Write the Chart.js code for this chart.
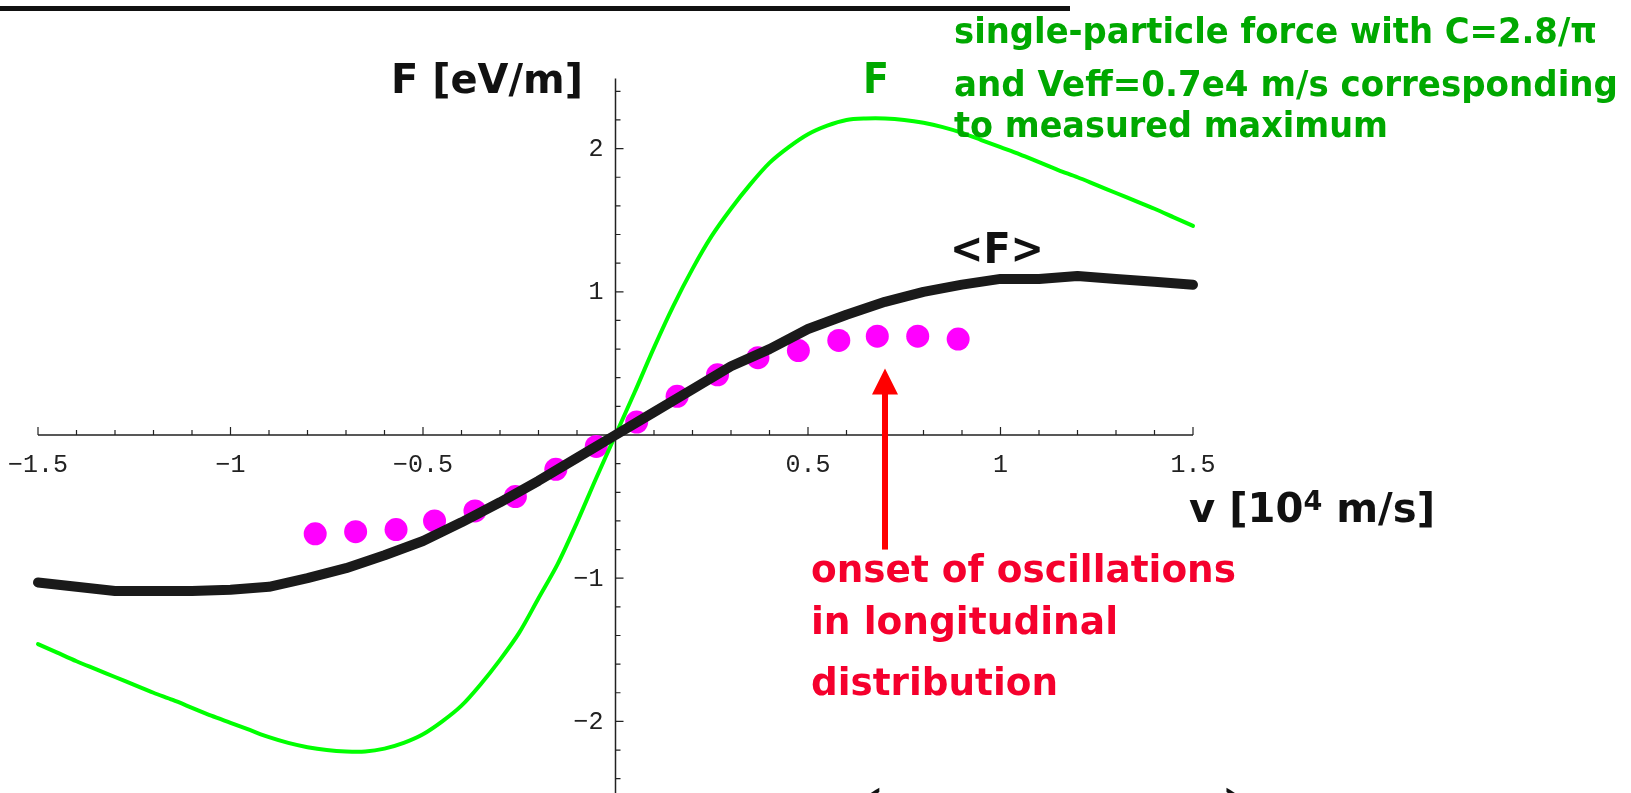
<!DOCTYPE html>
<html>
<head>
<meta charset="utf-8">
<script src="https://cdn.jsdelivr.net/npm/chart.js@4.4.0/dist/chart.umd.min.js"></script>
<style>
  html, body { margin: 0; padding: 0; background: #fff; }
  canvas { display: block; }
</style>
</head>
<body>
<canvas id="forceChart" width="1631" height="793"></canvas>
<script>
// velocity grid for the single-particle force curve F(v)
const singleV = [
  -1.5, -1.45, -1.4, -1.35, -1.3, -1.25, -1.2, -1.15, -1.1, -1.05, -1.0,
  -0.95, -0.9, -0.85, -0.8, -0.75, -0.7, -0.65, -0.6, -0.55, -0.5,
  -0.45, -0.4, -0.35, -0.3, -0.25, -0.2, -0.15, -0.1, -0.05, 0,
  0.05, 0.1, 0.15, 0.2, 0.25, 0.3, 0.35, 0.4, 0.45, 0.5,
  0.55, 0.6, 0.65, 0.7, 0.75, 0.8, 0.85, 0.9, 0.95, 1.0,
  1.05, 1.1, 1.15, 1.2, 1.25, 1.3, 1.35, 1.4, 1.45, 1.5
];
const singleF = [
  -1.46, -1.52, -1.58, -1.635, -1.69, -1.745, -1.80, -1.85, -1.905, -1.96, -2.01,
  -2.06, -2.11, -2.15, -2.18, -2.20, -2.21, -2.21, -2.19, -2.15, -2.09,
  -2.00, -1.89, -1.74, -1.57, -1.38, -1.14, -0.90, -0.61, -0.30, 0,
  0.30, 0.61, 0.90, 1.16, 1.39, 1.58, 1.75, 1.90, 2.01, 2.10,
  2.16, 2.20, 2.21, 2.21, 2.20, 2.18, 2.15, 2.11, 2.06, 2.01,
  1.96, 1.905, 1.85, 1.80, 1.745, 1.69, 1.635, 1.58, 1.52, 1.46
];

// averaged force <F>
const avgV = [
  -1.5, -1.4, -1.3, -1.2, -1.1, -1.0, -0.9, -0.8, -0.7, -0.6, -0.5,
  -0.4, -0.3, -0.2, -0.1, 0, 0.1, 0.2, 0.3, 0.4, 0.5,
  0.6, 0.7, 0.8, 0.9, 1.0, 1.1, 1.2, 1.3, 1.4, 1.5
];
const avgF = [
  -1.03, -1.06, -1.09, -1.09, -1.09, -1.08, -1.06, -1.0, -0.93, -0.84, -0.74,
  -0.61, -0.47, -0.32, -0.16, 0, 0.16, 0.32, 0.48, 0.60, 0.74,
  0.84, 0.93, 1.0, 1.05, 1.09, 1.09, 1.11, 1.09, 1.07, 1.05
];

// measured points
const measV = [
  -0.78, -0.675, -0.57, -0.47, -0.365, -0.26, -0.155, -0.05,
  0.055, 0.16, 0.265, 0.37, 0.475, 0.58, 0.68, 0.785, 0.89
];
const measF = [
  -0.69, -0.675, -0.66, -0.60, -0.53, -0.43, -0.24, -0.08,
  0.09, 0.27, 0.42, 0.54, 0.59, 0.66, 0.69, 0.69, 0.67
];

// axis ticks
const xTickValues = [-1.5, -1, -0.5, 0.5, 1, 1.5];
const xTickLabels = ["\u22121.5", "\u22121", "\u22120.5", "0.5", "1", "1.5"];
const yTickValues = [2, 1, -1, -2];
const yTickLabels = ["2", "1", "\u22121", "\u22122"];

// arrow marking the onset of oscillations (v, from F, to F)
const arrowV = 0.7;
const arrowFrom = -0.8;
const arrowTo = 0.465;

const pairs = (xs, ys) => xs.map((v, i) => ({ x: v, y: ys[i] }));

const BOLD = '"DejaVu Sans", sans-serif';

// draw text squeezed/stretched to a given width
function fitText(ctx, text, x, y, width, size, color) {
    ctx.save();
    ctx.font = `bold ${size}px ${BOLD}`;
    const w = ctx.measureText(text).width;
    ctx.translate(x, y);
    ctx.scale(width / w, 1);
    ctx.fillStyle = color;
    ctx.textAlign = "left";
    ctx.textBaseline = "alphabetic";
    ctx.fillText(text, 0, 0);
    ctx.restore();
}

const originAxes = {
    id: "originAxes",
    beforeDatasetsDraw(chart) {
        const { ctx, scales: { x, y } } = chart;
        const x0 = x.getPixelForValue(0);
        const y0 = y.getPixelForValue(0);

        ctx.save();
        ctx.strokeStyle = "#222";
        ctx.lineWidth = 1.5;

        ctx.beginPath();
        ctx.moveTo(x.getPixelForValue(-1.5), y0);
        ctx.lineTo(x.getPixelForValue(1.5), y0);
        ctx.moveTo(x0, y.getPixelForValue(2.49));
        ctx.lineTo(x0, y.getPixelForValue(-2.5));
        ctx.stroke();

        // x ticks every 0.1, pointing up
        ctx.lineWidth = 1.2;
        ctx.beginPath();
        for (let k = -15; k <= 15; k++) {
            if (k === 0) continue;
            const px = x.getPixelForValue(k / 10);
            const len = k % 5 === 0 ? 8 : 5;
            ctx.moveTo(px, y0);
            ctx.lineTo(px, y0 - len);
        }
        // y ticks every 0.2, pointing right
        for (let k = -12; k <= 12; k++) {
            if (k === 0) continue;
            const py = y.getPixelForValue(k / 5);
            const len = k % 5 === 0 ? 8 : 5;
            ctx.moveTo(x0, py);
            ctx.lineTo(x0 + len, py);
        }
        ctx.stroke();

        ctx.fillStyle = "#222";
        ctx.font = '25px "Liberation Mono", monospace';
        ctx.textAlign = "center";
        ctx.textBaseline = "alphabetic";
        xTickValues.forEach((v, i) => {
            ctx.fillText(xTickLabels[i], x.getPixelForValue(v), y0 + 37);
        });
        ctx.textAlign = "right";
        ctx.textBaseline = "middle";
        yTickValues.forEach((v, i) => {
            ctx.fillText(yTickLabels[i], x0 - 12, y.getPixelForValue(v) + 1);
        });
        ctx.restore();
    },
    afterDatasetsDraw(chart) {
        const { ctx, scales: { x, y } } = chart;

        // rule across the top of the slide
        ctx.save();
        ctx.fillStyle = "#111";
        ctx.fillRect(0, 6, 1070, 5);

        // red arrow
        const ax = x.getPixelForValue(arrowV);
        const aBottom = y.getPixelForValue(arrowFrom);
        const aTip = y.getPixelForValue(arrowTo);
        ctx.fillStyle = "#ff0000";
        ctx.fillRect(ax - 3, aTip + 24, 6, aBottom - aTip - 24);
        ctx.beginPath();
        ctx.moveTo(ax, aTip);
        ctx.lineTo(ax - 13, aTip + 26);
        ctx.lineTo(ax + 13, aTip + 26);
        ctx.closePath();
        ctx.fill();
        ctx.restore();

        // labels
        fitText(ctx, "F [eV/m]", 391, 93, 192, 41, "#111");
        fitText(ctx, "F", 863, 93, 26, 43, "#00a800");
        fitText(ctx, "single-particle force with C=2.8/\u03c0", 954, 43, 643, 35, "#00a800");
        fitText(ctx, "and Veff=0.7e4 m/s corresponding", 954, 96, 664, 35, "#00a800");
        fitText(ctx, "to measured maximum", 954, 137, 434, 35, "#00a800");
        fitText(ctx, "<F>", 950, 263, 94, 42, "#111");

        fitText(ctx, "onset of oscillations", 811, 582, 425, 37, "#f5002d");
        fitText(ctx, "in longitudinal", 811, 634, 307, 37, "#f5002d");
        fitText(ctx, "distribution", 811, 695, 247, 37, "#f5002d");

        // v [10^4 m/s]
        ctx.save();
        ctx.fillStyle = "#111";
        ctx.font = `bold 40px ${BOLD}`;
        const a = "v [10", b = "4", c = " m/s]";
        const wa = ctx.measureText(a).width;
        const wc = ctx.measureText(c).width;
        ctx.font = `bold 27px ${BOLD}`;
        const wb = ctx.measureText(b).width;
        const s = 246 / (wa + wb + wc);
        ctx.translate(1189, 522);
        ctx.scale(s, 1);
        ctx.font = `bold 40px ${BOLD}`;
        ctx.fillText(a, 0, 0);
        ctx.font = `bold 27px ${BOLD}`;
        ctx.fillText(b, wa, -12);
        ctx.font = `bold 40px ${BOLD}`;
        ctx.fillText(c, wa + wb, 0);
        ctx.restore();

        // tops of the parentheses of the formula below
        ctx.save();
        ctx.fillStyle = "#111";
        ctx.font = '100px "Liberation Serif", serif';
        ctx.textBaseline = "top";
        ctx.textAlign = "center";
        ctx.fillText("(", 866, 781);
        ctx.fillText(")", 1240, 781);
        ctx.restore();
    }
};

new Chart(document.getElementById("forceChart"), {
    type: "scatter",
    data: {
        datasets: [
            {
                label: "<F>",
                data: pairs(avgV, avgF),
                showLine: true,
                borderColor: "#1a1a1a",
                borderWidth: 10,
                borderCapStyle: "round",
                borderJoinStyle: "round",
                pointRadius: 0,
                tension: 0,
                clip: false,
                order: 1
            },
            {
                label: "F",
                data: pairs(singleV, singleF),
                showLine: true,
                borderColor: "#00ff00",
                borderWidth: 4,
                borderCapStyle: "round",
                pointRadius: 0,
                tension: 0.3,
                clip: false,
                order: 2
            },
            {
                label: "measured",
                data: pairs(measV, measF),
                showLine: false,
                pointRadius: 11.5,
                pointBackgroundColor: "#ff00ff",
                pointBorderWidth: 0,
                clip: false,
                order: 3
            }
        ]
    },
    options: {
        responsive: false,
        animation: false,
        devicePixelRatio: 1,
        layout: {
            autoPadding: false,
            padding: { left: 38, right: 438, top: 77, bottom: 0 }
        },
        scales: {
            x: { type: "linear", min: -1.5, max: 1.5, display: false },
            y: { type: "linear", min: -2.5, max: 2.5, display: false }
        },
        plugins: {
            legend: { display: false },
            tooltip: { enabled: false }
        }
    },
    plugins: [originAxes]
});
</script>
</body>
</html>
